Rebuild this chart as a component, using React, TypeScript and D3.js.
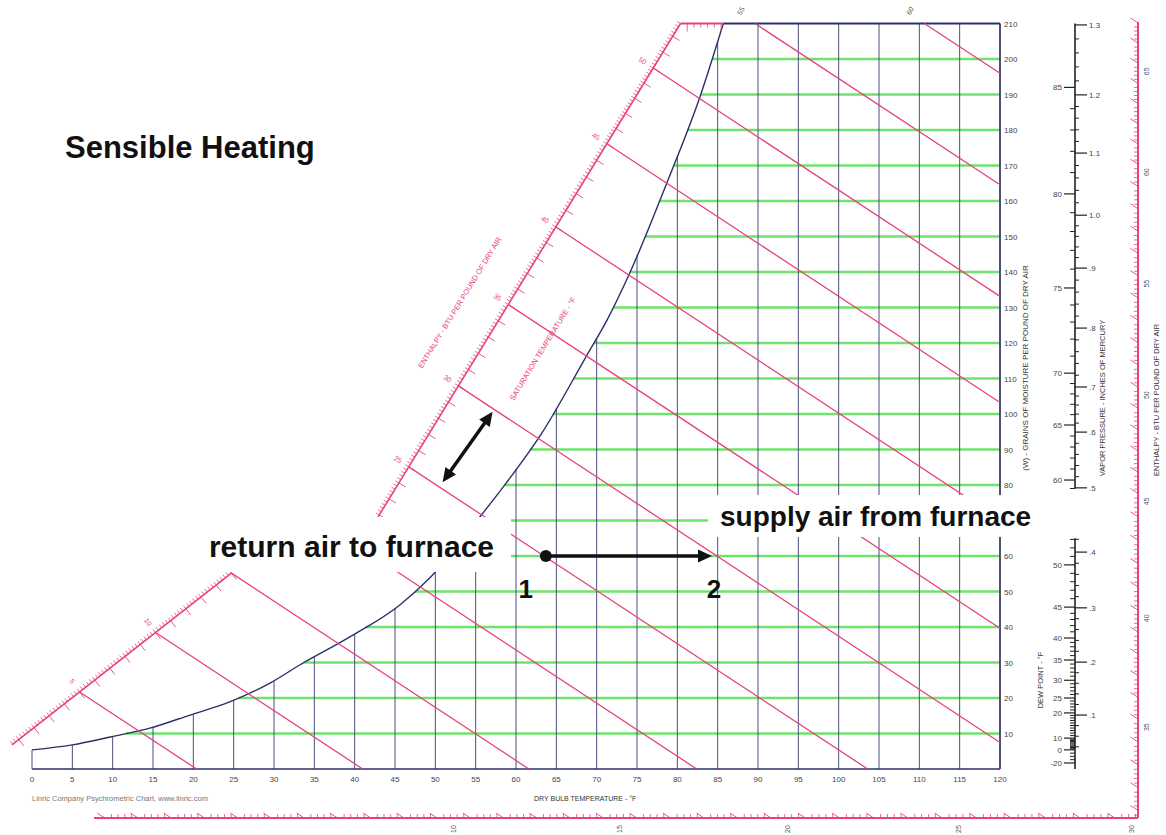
import React from "react";
import * as d3 from "d3";

// saturation curve (dry bulb °F, grains per lb of dry air)
const satTemps = [0, 5, 9.7, 14.6, 19.6, 24.5, 29.5, 33.2, 39.4, 45.6, 49.3, 55.9, 58.4, 63.2, 68.8, 71.3, 74.1, 78.7, 82.8, 85.7];
const satGrains = [5.4, 6.8, 9.0, 11.5, 15.2, 18.9, 24.2, 29.3, 37.2, 46.2, 53.8, 72.1, 79.4, 94.6, 116.6, 126.5, 139.7, 165.1, 189.3, 210];

// enthalpy lines (BTU/lb) and the dry bulb where each meets 0 grains
const enthalpyValues = [5, 10, 15, 20, 25, 30, 35, 40, 45, 50, 55, 60, 65];
const enthalpyZeroT = [20.4, 41, 61.6, 82.4, 103.6, 125, 146.5, 167, 189, 209, 230, 251, 270];
const enthalpySlope = 1.496; // grains per °F along an enthalpy line

const dryBulbTicks = d3.range(0, 121, 5);
// 70 is hidden under the "supply air" label in the original
const grainTicks = [10, 20, 30, 40, 50, 60, 80, 90, 100, 110, 120, 130, 140, 150, 160, 170, 180, 190, 200, 210];
const grainLines = d3.range(10, 201, 10);

// dew point / vapour pressure nomogram (positions in grains)
const dewPoints = [-20, 0, 10, 20, 25, 30, 35, 40, 45, 50, 60, 65, 70, 75, 80, 85];
const dewGrains = [1.7, 5.4, 8.7, 15.8, 20, 25, 30.7, 36.9, 45.6, 57.5, 81.4, 96.9, 111.5, 135.5, 162, 192];
const vpValues = [0.1, 0.2, 0.3, 0.4, 0.5, 0.6, 0.7, 0.8, 0.9, 1.0, 1.1, 1.2, 1.3];
const vpLabels = [".1", ".2", ".3", ".4", ".5", ".6", ".7", ".8", ".9", "1.0", "1.1", "1.2", "1.3"];
const vpGrains = [15.2, 30.1, 45.4, 61.1, 79.2, 94.9, 107.6, 124.2, 141.1, 156, 173.5, 189.9, 209.6];
const vpSegments = [[79, 210], [0, 65]];

const lowerScaleLabels = [5, 10, 15];
const upperScaleLabels = [25, 30, 35, 40, 45, 50];
const topEdgeLabels = [55, 60];
const rightScaleLabels = [35, 40, 45, 50, 55, 60, 65];
const bottomScaleLabels = [10, 15, 20, 25, 30];

// enthalpy scale strips beside the saturation curve (°F, grains)
const lowerScaleSeg = [[-2.48, 6.8], [24.8, 55.3]];
const upperScaleSeg = [[42.9, 71], [80.4, 210]];

// process: return air (1) heated to supply air (2)
const point1 = [63.7, 60];
const point2 = [84.3, 60];
const bracket = [[50.9, 80.8], [57.1, 100.6]];

const PINK = "#e6427c";
const GREEN = "#6fe36b";
const NAVY = "#2b2f6c";
const FONT = "'Liberation Sans', Arial, Helvetica, sans-serif";

const xS = d3.scaleLinear().domain([0, 120]).range([32, 1000]);
const yS = d3.scaleLinear().domain([0, 210]).range([769, 23.5]);
const satW = d3.scaleLinear().domain(satTemps).range(satGrains).clamp(true);
const satT = d3.scaleLinear().domain(satGrains).range(satTemps).clamp(true);
const hToT0 = d3.scaleLinear().domain(enthalpyValues).range(enthalpyZeroT);
const t0ToH = d3.scaleLinear().domain(enthalpyZeroT).range(enthalpyValues);
const dewScale = d3.scaleLinear().domain(dewPoints).range(dewGrains);
const vpScale = d3.scaleLinear().domain(vpValues).range(vpGrains);

const returnBox = { x: 200, y: 517, w: 311, h: 55 };
const supplyBox = { x: 708, y: 495, w: 330, h: 42 };

const zeroT = (p) => p[0] + p[1] / enthalpySlope;

function onSeg(seg, T0) {
  const a = zeroT(seg[0]);
  const b = zeroT(seg[1]);
  const t = (T0 - a) / (b - a);
  if (t < -0.002 || t > 1.002) return null;
  return [seg[0][0] + t * (seg[1][0] - seg[0][0]), seg[0][1] + t * (seg[1][1] - seg[0][1])];
}

function segGeom(seg) {
  const A = [xS(seg[0][0]), yS(seg[0][1])];
  const B = [xS(seg[1][0]), yS(seg[1][1])];
  const len = Math.hypot(B[0] - A[0], B[1] - A[1]);
  const u = [(B[0] - A[0]) / len, (B[1] - A[1]) / len];
  const n = [-u[1], u[0]]; // points towards the curve
  const h0 = t0ToH(zeroT(seg[0]));
  const h1 = t0ToH(zeroT(seg[1]));
  const ticks = [];
  for (let k = Math.ceil(h0 * 5); k <= Math.floor(h1 * 5); k++) {
    const p = onSeg(seg, hToT0(k / 5));
    if (p) ticks.push({ k, x: xS(p[0]), y: yS(p[1]) });
  }
  return { A, B, u, n, ticks, angle: (Math.atan2(u[1], u[0]) * 180) / Math.PI };
}

function head(tip, from, len = 14, half = 6.5) {
  const dx = tip[0] - from[0];
  const dy = tip[1] - from[1];
  const l = Math.hypot(dx, dy);
  const ux = dx / l, uy = dy / l;
  const bx = tip[0] - ux * len, by = tip[1] - uy * len;
  return `${tip[0]},${tip[1]} ${bx - uy * half},${by + ux * half} ${bx + uy * half},${by - ux * half}`;
}

export default function App() {
  const satPath = d3.line().curve(d3.curveMonotoneX)(
    satTemps.map((t, i) => [xS(t), yS(satGrains[i])])
  );
  const topT = satTemps[satTemps.length - 1];

  const hLines = enthalpyValues
    .map((h) => {
      const T0 = hToT0(h);
      let start = onSeg(lowerScaleSeg, T0) || onSeg(upperScaleSeg, T0);
      if (!start) {
        const tTop = T0 - 210 / enthalpySlope;
        if (tTop >= upperScaleSeg[1][0]) start = [tTop, 210];
        else {
          const g = yS.invert(returnBox.y + 4);
          start = [T0 - g / enthalpySlope, g];
        }
      }
      if (start[0] >= 120) return null;
      const end = T0 <= 120 ? [T0, 0] : [120, enthalpySlope * (T0 - 120)];
      return { h, x1: xS(start[0]), y1: yS(start[1]), x2: xS(end[0]), y2: yS(end[1]) };
    })
    .filter(Boolean);

  const lower = segGeom(lowerScaleSeg);
  const upper = segGeom(upperScaleSeg);

  // pink strip along the top edge
  const topH0 = t0ToH(zeroT(upperScaleSeg[1]));
  const topH1 = t0ToH(zeroT([topT, 210]));
  const topTicks = [];
  for (let k = Math.ceil(topH0 * 5); k <= Math.floor(topH1 * 5); k++) {
    topTicks.push({ k, x: xS(hToT0(k / 5) - 210 / enthalpySlope) });
  }

  // outer enthalpy scales (right and bottom)
  const xR = 1138;
  const yB = 818;
  const Tr = xS.invert(xR);
  const Wb = yS.invert(yB);
  const slopePx = (enthalpySlope * (yS(0) - yS(1))) / (xS(1) - xS(0));
  const dl = Math.hypot(1, slopePx);
  const dir = [-1 / dl, -slopePx / dl];
  const rightTicks = [];
  const rH0 = t0ToH(Tr + Wb / enthalpySlope);
  const rH1 = t0ToH(Tr + yS.invert(22) / enthalpySlope);
  for (let k = Math.ceil(rH0 * 5); k <= Math.floor(rH1 * 5); k++) {
    rightTicks.push({ k, y: yS(enthalpySlope * (hToT0(k / 5) - Tr)) });
  }
  const bottomTicks = [];
  const bH1 = t0ToH(Tr + Wb / enthalpySlope);
  for (let k = 0; k <= Math.floor(bH1 * 5); k++) {
    const x = xS(hToT0(k / 5) - Wb / enthalpySlope);
    if (x >= 94) bottomTicks.push({ k, x });
  }

  // nomogram
  const vpX = 1075;
  const inSeg = (g) => vpSegments.some(([a, b]) => g >= a - 0.01 && g <= b + 0.01);
  const dewMinor = d3
    .range(-20, 86)
    .filter((d) => (d >= 0 || d % 5 === 0) && !dewPoints.includes(d))
    .map((d) => dewScale(d))
    .filter(inSeg);
  const vpMinor = d3
    .range(2, 66)
    .filter((k) => k % 5 !== 0)
    .map((k) => vpScale(k * 0.02))
    .filter(inSeg);

  const small = { fontFamily: FONT, fontSize: 8, fill: "#444" };

  return (
    <svg
      width={1166}
      height={835}
      style={{ position: "absolute", left: 0, top: 0, background: "#fff" }}
      fontFamily={FONT}
    >
      <rect width={1166} height={835} fill="#fff" />

      {/* humidity ratio lines */}
      {grainLines.map((g) => (
        <line key={`g${g}`} x1={xS(satT(g))} x2={1000} y1={yS(g)} y2={yS(g)} stroke={GREEN} strokeWidth={2.4} />
      ))}

      {/* dry bulb lines */}
      {dryBulbTicks
        .filter((t) => t < 120)
        .map((t) => (
          <line
            key={`t${t}`}
            x1={xS(t)}
            x2={xS(t)}
            y1={yS(0)}
            y2={yS(t <= topT ? satW(t) : 210)}
            stroke="#4b4f78"
            strokeWidth={1}
          />
        ))}

      {/* saturation curve and frame */}
      <path d={satPath} fill="none" stroke={NAVY} strokeWidth={1.4} />
      <line x1={xS(0)} x2={xS(120)} y1={yS(0)} y2={yS(0)} stroke={NAVY} strokeWidth={1.4} />
      <line x1={xS(120)} x2={xS(120)} y1={yS(0)} y2={yS(210)} stroke="#3a3d6a" strokeWidth={1.8} />
      <line x1={xS(topT)} x2={xS(120)} y1={yS(210)} y2={yS(210)} stroke={NAVY} strokeWidth={1.8} />

      {/* enthalpy lines */}
      {hLines.map((l) => (
        <line key={`h${l.h}`} x1={l.x1} y1={l.y1} x2={l.x2} y2={l.y2} stroke={PINK} strokeWidth={1.3} />
      ))}

      {/* enthalpy scale strips */}
      {[
        { g: lower, labels: lowerScaleLabels },
        { g: upper, labels: upperScaleLabels },
      ].map(({ g, labels }, i) => (
        <g key={`sc${i}`} stroke={PINK}>
          <line x1={g.A[0]} y1={g.A[1]} x2={g.B[0]} y2={g.B[1]} strokeWidth={1.6} />
          {g.ticks.map((t) => {
            const major = t.k % 5 === 0;
            return (
              <g key={t.k}>
                <line x1={t.x} y1={t.y} x2={t.x - g.n[0] * 4} y2={t.y - g.n[1] * 4} strokeWidth={0.8} />
                {major && (
                  <line x1={t.x} y1={t.y} x2={t.x + g.n[0] * 8} y2={t.y + g.n[1] * 8} strokeWidth={0.9} />
                )}
              </g>
            );
          })}
          {labels.map((h) => {
            const p = onSeg(i === 0 ? lowerScaleSeg : upperScaleSeg, hToT0(h));
            if (!p) return null;
            const x = xS(p[0]) - g.n[0] * 13;
            const y = yS(p[1]) - g.n[1] * 13;
            return (
              <text
                key={`l${h}`}
                x={x}
                y={y}
                stroke="none"
                fill={PINK}
                fontSize={7}
                textAnchor="middle"
                dominantBaseline="middle"
                transform={`rotate(${g.angle + 90},${x},${y})`}
              >
                {h}
              </text>
            );
          })}
        </g>
      ))}

      {/* top edge strip */}
      <g stroke={PINK}>
        <line x1={xS(upperScaleSeg[1][0])} x2={xS(topT)} y1={yS(210)} y2={yS(210)} strokeWidth={1.8} />
        {topTicks.map((t) => (
          <line key={t.k} x1={t.x} x2={t.x} y1={yS(210)} y2={yS(210) + (t.k % 5 === 0 ? 8 : 4)} strokeWidth={0.8} />
        ))}
      </g>
      {topEdgeLabels.map((h) => {
        const x = xS(hToT0(h) - 210 / enthalpySlope) - 12;
        return (
          <text key={`te${h}`} x={x} y={12} fontSize={7} fill="#555" textAnchor="middle" transform={`rotate(-60,${x},12)`}>
            {h}
          </text>
        );
      })}

      {/* strip texts */}
      <text
        x={462}
        y={304}
        fontSize={7.5}
        fill={PINK}
        textAnchor="middle"
        transform={`rotate(${upper.angle},462,304)`}
      >
        ENTHALPY - BTU PER POUND OF DRY AIR
      </text>
      <text
        x={545}
        y={350}
        fontSize={7.5}
        fill={PINK}
        textAnchor="middle"
        transform={`rotate(${upper.angle},545,350)`}
      >
        SATURATION TEMPERATURE - °F
      </text>

      {/* axis labels */}
      {dryBulbTicks.map((t) => (
        <text key={`xt${t}`} x={xS(t)} y={782} textAnchor="middle" {...small}>
          {t}
        </text>
      ))}
      {grainTicks.map((g) => (
        <text key={`yt${g}`} x={1004} y={yS(g) + 3} {...small}>
          {g}
        </text>
      ))}
      <text x={32} y={801} fontSize={7.5} fill="#777">
        Linric Company Psychrometric Chart, www.linric.com
      </text>
      <text x={534} y={801} fontSize={7} fill="#333">
        DRY BULB TEMPERATURE - °F
      </text>
      <text x={1028} y={368} fontSize={8} fill="#333" textAnchor="middle" transform="rotate(-90,1028,368)">
        (W) - GRAINS OF MOISTURE PER POUND OF DRY AIR
      </text>

      {/* dew point / vapour pressure nomogram */}
      <g stroke="#222">
        {vpSegments.map(([a, b], i) => (
          <line key={`vs${i}`} x1={vpX} x2={vpX} y1={yS(b)} y2={yS(a)} strokeWidth={1.6} />
        ))}
        {dewMinor.map((g, i) => (
          <line key={`dm${i}`} x1={vpX - 5} x2={vpX} y1={yS(g)} y2={yS(g)} strokeWidth={1} />
        ))}
        {vpMinor.map((g, i) => (
          <line key={`vm${i}`} x1={vpX} x2={vpX + 4} y1={yS(g)} y2={yS(g)} strokeWidth={1} />
        ))}
        {dewPoints.map((d, i) => (
          <line key={`dM${d}`} x1={vpX - 11} x2={vpX} y1={yS(dewGrains[i])} y2={yS(dewGrains[i])} strokeWidth={1.2} />
        ))}
        {vpValues.map((v, i) => (
          <line key={`vM${i}`} x1={vpX} x2={vpX + 12} y1={yS(vpGrains[i])} y2={yS(vpGrains[i])} strokeWidth={1.2} />
        ))}
      </g>
      {dewPoints.map((d, i) => (
        <text key={`dl${d}`} x={vpX - 13} y={yS(dewGrains[i]) + 3} textAnchor="end" {...small}>
          {d}
        </text>
      ))}
      {vpValues.map((v, i) => (
        <text key={`vl${i}`} x={vpX + 14} y={yS(vpGrains[i]) + 3} {...small}>
          {vpLabels[i]}
        </text>
      ))}
      <text x={1043} y={680} fontSize={7.5} fill="#333" textAnchor="middle" transform="rotate(-90,1043,680)">
        DEW POINT - °F
      </text>
      <text x={1105} y={398} fontSize={7.5} fill="#333" textAnchor="middle" transform="rotate(-90,1105,398)">
        VAPOR PRESSURE - INCHES OF MERCURY
      </text>
      <text x={1159} y={400} fontSize={7.5} fill="#333" textAnchor="middle" transform="rotate(-90,1159,400)">
        ENTHALPY - BTU PER POUND OF DRY AIR
      </text>

      {/* outer enthalpy scales */}
      <g stroke={PINK}>
        <line x1={xR} x2={xR} y1={22} y2={yB} strokeWidth={2} />
        <line x1={94} x2={xR} y1={yB} y2={yB} strokeWidth={2} />
        {rightTicks.map((t) =>
          t.k % 5 === 0 ? (
            <line key={`rt${t.k}`} x1={xR} y1={t.y} x2={xR + dir[0] * 9} y2={t.y + dir[1] * 9} strokeWidth={0.9} />
          ) : (
            <line key={`rt${t.k}`} x1={xR} y1={t.y} x2={xR - 4} y2={t.y} strokeWidth={0.8} />
          )
        )}
        {bottomTicks.map((t) =>
          t.k % 5 === 0 ? (
            <line key={`bt${t.k}`} x1={t.x} y1={yB} x2={t.x + dir[0] * 9} y2={yB + dir[1] * 9} strokeWidth={0.9} />
          ) : (
            <line key={`bt${t.k}`} x1={t.x} y1={yB} x2={t.x} y2={yB - 4} strokeWidth={0.8} />
          )
        )}
      </g>
      {rightScaleLabels.map((h) => {
        const y = yS(enthalpySlope * (hToT0(h) - Tr)) + 8;
        return (
          <text key={`rl${h}`} x={xR + 11} y={y} fontSize={7} fill="#555" textAnchor="middle" transform={`rotate(-90,${xR + 11},${y})`}>
            {h}
          </text>
        );
      })}
      {bottomScaleLabels.map((h) => {
        const x = xS(hToT0(h) - Wb / enthalpySlope) + 17;
        return (
          <text key={`bl${h}`} x={x} y={831} fontSize={7} fill="#555" textAnchor="middle" transform={`rotate(-90,${x},829)`}>
            {h}
          </text>
        );
      })}

      {/* title and annotations */}
      <text x={65} y={158} fontSize={31} fontWeight={700} fill="#111">
        Sensible Heating
      </text>

      <rect x={returnBox.x} y={returnBox.y} width={returnBox.w} height={returnBox.h} fill="#fff" />
      <rect x={supplyBox.x} y={supplyBox.y} width={supplyBox.w} height={supplyBox.h} fill="#fff" />
      <text x={494} y={557} fontSize={30} fontWeight={700} fill="#111" textAnchor="end">
        return air to furnace
      </text>
      <text x={720} y={526} fontSize={28} fontWeight={700} fill="#111">
        supply air from furnace
      </text>

      {(() => {
        const p1 = [xS(point1[0]), yS(point1[1])];
        const p2 = [xS(point2[0]), yS(point2[1])];
        const b1 = [xS(bracket[0][0]), yS(bracket[0][1])];
        const b2 = [xS(bracket[1][0]), yS(bracket[1][1])];
        const bl = Math.hypot(b2[0] - b1[0], b2[1] - b1[1]);
        const ub = [(b2[0] - b1[0]) / bl, (b2[1] - b1[1]) / bl];
        return (
          <g>
            <line x1={p1[0]} y1={p1[1]} x2={p2[0] - 12} y2={p2[1]} stroke="#111" strokeWidth={3.5} />
            <polygon points={head(p2, p1)} fill="#111" />
            <circle cx={p1[0]} cy={p1[1]} r={6} fill="#111" />
            <line
              x1={b1[0] + ub[0] * 10}
              y1={b1[1] + ub[1] * 10}
              x2={b2[0] - ub[0] * 10}
              y2={b2[1] - ub[1] * 10}
              stroke="#111"
              strokeWidth={3.5}
            />
            <polygon points={head(b1, b2)} fill="#111" />
            <polygon points={head(b2, b1)} fill="#111" />
            <text x={p1[0] - 20} y={598} fontSize={26} fontWeight={700} fill="#111" textAnchor="middle">
              1
            </text>
            <text x={p2[0] + 2} y={598} fontSize={26} fontWeight={700} fill="#111" textAnchor="middle">
              2
            </text>
          </g>
        );
      })()}
    </svg>
  );
}
